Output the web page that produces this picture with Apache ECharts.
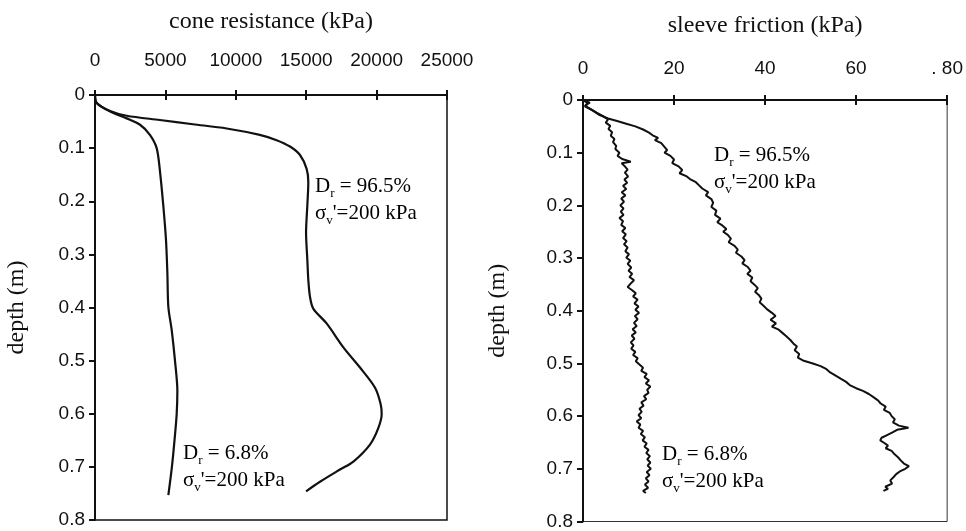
<!DOCTYPE html>
<html>
<head>
<meta charset="utf-8">
<script src="https://cdn.jsdelivr.net/npm/echarts@6/dist/echarts.min.js"></script>
<style>html,body{margin:0;padding:0;background:#fff;}#c{width:966px;height:531px;}</style>
</head>
<body>
<div id="c"></div>
<script>
// ---- data: [value, depth (m)] ----
const coneTicks = [0, 5000, 10000, 15000, 20000, 25000];
const sleeveTicks = [0, 20, 40, 60, 80];
const depthTicks = [0, 0.1, 0.2, 0.3, 0.4, 0.5, 0.6, 0.7, 0.8];

const coneDr965 = [[0,0],[120,0.015],[1070,0.03],[2250,0.039],[4600,0.047],[6960,0.055],[9350,0.063],[11700,0.075],[12900,0.085],[13850,0.097],[14560,0.113],[15030,0.139],[15150,0.164],[15080,0.208],[14990,0.259],[15080,0.31],[15150,0.348],[15270,0.38],[15500,0.402],[16450,0.43],[17640,0.475],[18820,0.513],[19890,0.551],[20290,0.582],[20360,0.601],[20120,0.627],[19530,0.658],[18350,0.69],[17400,0.705],[15980,0.728],[14990,0.746]];
const coneDr68 = [[0,0],[120,0.015],[1070,0.031],[2250,0.044],[3200,0.056],[3900,0.075],[4380,0.1],[4620,0.145],[4850,0.208],[5040,0.272],[5140,0.335],[5210,0.399],[5450,0.443],[5680,0.5],[5850,0.557],[5800,0.601],[5640,0.652],[5450,0.703],[5210,0.753]];

const sleeveDr965 = [[0,0],[1.5,0.005],[0.5,0.01],[1.2,0.015],[2.5,0.022],[3.5,0.028],[5.5,0.035],[7.5,0.04],[9.5,0.045],[11.5,0.05],[13.2,0.056],[14.5,0.062],[15.3,0.067],[16.5,0.072],[15.8,0.076],[17.2,0.082],[17.8,0.088],[18.5,0.095],[17.9,0.1],[19.2,0.106],[20,0.113],[19.6,0.12],[21,0.126],[21.8,0.133],[21.2,0.139],[22.8,0.145],[23.5,0.15],[24.8,0.156],[25.5,0.162],[26.2,0.168],[27.5,0.175],[27,0.181],[28.2,0.188],[28.6,0.195],[28.2,0.203],[29.3,0.21],[29,0.218],[30.2,0.225],[29.5,0.232],[30.6,0.238],[31.5,0.245],[30.8,0.25],[31.8,0.256],[32.5,0.263],[32,0.27],[33.3,0.277],[34,0.284],[33.6,0.29],[34.8,0.297],[35.5,0.304],[35,0.31],[36.2,0.317],[36.8,0.324],[36.1,0.33],[37.2,0.337],[36.8,0.344],[37.6,0.35],[38.4,0.357],[37.8,0.364],[38.6,0.37],[39.2,0.377],[38.8,0.384],[39.6,0.39],[40.4,0.397],[41.5,0.404],[42.3,0.41],[41.2,0.417],[42.4,0.424],[41.5,0.43],[43,0.436],[43.8,0.442],[44.6,0.448],[45.5,0.455],[46.2,0.462],[47,0.468],[46.5,0.475],[47.5,0.482],[47.2,0.489],[48.5,0.495],[50.5,0.5],[52.2,0.505],[53.5,0.511],[54.3,0.517],[55.5,0.523],[56.6,0.529],[57.8,0.535],[58.6,0.541],[60,0.547],[61.5,0.552],[62.8,0.558],[63.8,0.564],[64.8,0.57],[65.4,0.576],[66.5,0.582],[66.1,0.588],[67.4,0.594],[67.8,0.6],[68.5,0.606],[68.1,0.612],[69.4,0.618],[71.5,0.622],[69,0.626],[68,0.631],[66.8,0.636],[65.6,0.641],[65.3,0.646],[66.2,0.651],[67,0.656],[66.5,0.661],[67.8,0.666],[68.4,0.672],[69.2,0.678],[69.8,0.684],[70.5,0.69],[71.6,0.695],[70.8,0.7],[69.6,0.705],[68.8,0.71],[68.2,0.716],[67.5,0.722],[67.9,0.728],[66.4,0.734],[67,0.738],[66,0.742]];
const sleeveDr68 = [[0,0],[1,0.006],[0.4,0.012],[1.8,0.018],[3,0.024],[4.3,0.03],[5.5,0.037],[5,0.043],[6,0.049],[5.6,0.055],[6.4,0.061],[6.1,0.068],[6.9,0.074],[6.6,0.08],[7.3,0.087],[7.1,0.093],[8,0.1],[7.6,0.106],[8.6,0.112],[10.5,0.117],[8.5,0.12],[9.2,0.126],[9.8,0.132],[9.2,0.138],[9.9,0.145],[9.1,0.151],[9.7,0.157],[8.8,0.163],[9.5,0.169],[8.5,0.175],[9.3,0.181],[8.4,0.187],[9,0.193],[8.2,0.2],[8.9,0.206],[8.3,0.212],[8.9,0.218],[8,0.224],[8.8,0.23],[8.4,0.237],[9.3,0.243],[8.6,0.249],[9.4,0.255],[8.8,0.262],[9.6,0.268],[9,0.274],[9.8,0.28],[9.3,0.287],[10.1,0.293],[9.5,0.299],[10.4,0.305],[9.8,0.311],[10.6,0.318],[10,0.324],[10.8,0.33],[10.2,0.336],[11.2,0.342],[10.4,0.349],[9.8,0.355],[10.8,0.361],[11.6,0.367],[11,0.373],[12,0.379],[11.3,0.386],[12.2,0.392],[11.5,0.398],[12.3,0.404],[11.4,0.41],[12,0.416],[11.2,0.423],[11.8,0.429],[10.9,0.435],[11.6,0.441],[10.7,0.447],[11.3,0.453],[10.5,0.46],[11.1,0.466],[10.6,0.472],[11.5,0.478],[11,0.484],[12,0.49],[11.6,0.496],[12.4,0.502],[13.2,0.508],[12.8,0.514],[14,0.52],[13.5,0.526],[14.5,0.532],[13.8,0.538],[14.8,0.544],[14.1,0.55],[14.4,0.556],[13.4,0.562],[13.9,0.568],[12.8,0.574],[13.3,0.58],[12.4,0.586],[12.9,0.592],[12.2,0.598],[12.8,0.604],[11.8,0.61],[12.6,0.616],[12.2,0.622],[13.2,0.628],[12.7,0.634],[13.6,0.64],[13.1,0.646],[14,0.652],[13.5,0.658],[14.4,0.664],[13.9,0.67],[14.7,0.676],[14.1,0.682],[14.8,0.688],[14.2,0.694],[14.9,0.7],[14,0.706],[14.6,0.712],[13.8,0.718],[14.4,0.724],[13.6,0.73],[14.3,0.736],[13.2,0.742],[13.8,0.746]];

const SANS = '"Liberation Sans", Arial, sans-serif';
const SERIF = '"Liberation Serif", "Times New Roman", serif';

const chart = echarts.init(document.getElementById('c'));

function xAxes(gi, ticks, name, nameGap, labelMargin, fmt) {
  const base = {
    gridIndex: gi, type: 'value', position: 'top',
    min: ticks[0], max: ticks[ticks.length - 1], interval: ticks[1] - ticks[0],
    splitLine: { show: false }
  };
  return [
    Object.assign({}, base, {
      name: name, nameLocation: 'middle', nameGap: nameGap,
      nameTextStyle: { fontFamily: SERIF, fontSize: 24, color: '#111' },
      axisLine: { show: true, lineStyle: { color: '#111', width: 2 } },
      axisTick: { show: true, inside: false, length: 5, lineStyle: { color: '#111', width: 2 } },
      axisLabel: { show: true, margin: labelMargin, fontFamily: SANS, fontSize: 19, color: '#111', formatter: fmt }
    }),
    Object.assign({}, base, {
      axisLine: { show: false },
      axisTick: { show: true, inside: true, length: 5, lineStyle: { color: '#111', width: 2 } },
      axisLabel: { show: false }
    })
  ];
}
function yAxes(gi, name, nameGap) {
  const base = {
    gridIndex: gi, type: 'value', inverse: true,
    min: 0, max: 0.8, interval: 0.1, splitLine: { show: false }
  };
  return [
    Object.assign({}, base, {
      name: name, nameLocation: 'middle', nameGap: nameGap, nameRotate: 90,
      nameTextStyle: { fontFamily: SERIF, fontSize: 24, color: '#111' },
      axisLine: { show: true, lineStyle: { color: '#111', width: 2 } },
      axisTick: { show: true, inside: false, length: 6, lineStyle: { color: '#111', width: 2 } },
      axisLabel: { show: true, margin: 10, fontFamily: SANS, fontSize: 19, color: '#111',
        formatter: v => String(Math.round(v * 10) / 10) }
    }),
    Object.assign({}, base, {
      axisLine: { show: false },
      axisTick: { show: true, inside: true, length: 5, lineStyle: { color: '#111', width: 2 } },
      axisLabel: { show: false }
    })
  ];
}

function lineSeries(data, xi, yi, width, smooth) {
  return {
    type: 'line', data: data, xAxisIndex: xi, yAxisIndex: yi,
    showSymbol: false, symbol: 'none', smooth: smooth, silent: true,
    lineStyle: { color: '#111', width: width }, z: 5
  };
}

const rich = {
  a: { fontFamily: SERIF, fontSize: 21, color: '#111', lineHeight: 27 },
  s: { fontFamily: SERIF, fontSize: 13, color: '#111', lineHeight: 12, verticalAlign: 'bottom' }
};
function note(x, y, txt1) {
  return {
    type: 'text', left: x, top: y, z: 10,
    style: {
      text: '{a|D}{s|r}{a| = ' + txt1 + '}\n{a|\u03c3}{s|v}{a|\'=200 kPa}',
      rich: rich
    }
  };
}

chart.setOption({
  animation: false,
  backgroundColor: '#fff',
  grid: [
    { left: 95, top: 95, width: 352, height: 425, show: true, borderColor: '#111', borderWidth: 1.5, backgroundColor: 'transparent' },
    { left: 583, top: 100, width: 367, height: 426, show: true, borderColor: '#333', borderWidth: 1, backgroundColor: 'transparent' }
  ],
  xAxis: [].concat(
    xAxes(0, coneTicks, 'cone resistance (kPa)', 61, 25, v => String(v)),
    xAxes(1, sleeveTicks, 'sleeve friction (kPa)', 62, 22, v => (v === 80 ? '. 80' : String(v)))
  ),
  yAxis: [].concat(
    yAxes(0, 'depth (m)', 66),
    yAxes(1, 'depth (m)', 73)
  ),
  series: [
    lineSeries(coneDr965, 0, 0, 2.2, 0.3),
    lineSeries(coneDr68, 0, 0, 2.2, 0.3),
    lineSeries(sleeveDr965, 2, 2, 2, false),
    lineSeries(sleeveDr68, 2, 2, 2, false)
  ],
  graphic: [
    note(315, 176, '96.5%'),
    note(183, 443, '6.8%'),
    note(714, 145, '96.5%'),
    note(662, 444, '6.8%')
  ]
});
</script>
</body>
</html>
